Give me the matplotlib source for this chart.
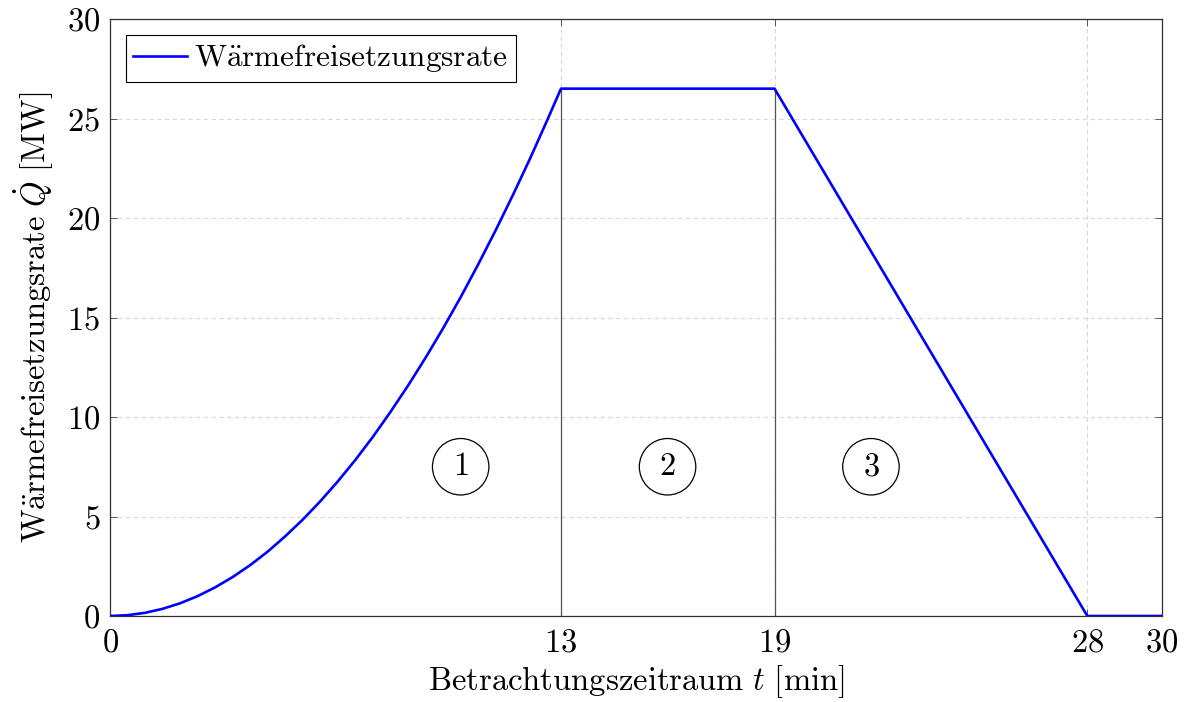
import matplotlib
matplotlib.use("Agg")
import matplotlib.pyplot as plt

plt.rcParams['mathtext.fontset'] = 'cm'
plt.rcParams['font.family'] = 'serif'
plt.rcParams['font.serif'] = ['cmr10', 'DejaVu Serif']
plt.rcParams['axes.formatter.use_mathtext'] = True

# Data
t_min = [0, 0.5, 1, 1.5, 2, 2.5, 3, 3.5, 4, 4.5, 5, 5.5, 6, 6.5, 7, 7.5, 8, 8.5,
         9, 9.5, 10, 10.5, 11, 11.5, 12, 12.5, 12.86, 18.95, 27.87, 30]
q_mw = [0, 0.04, 0.16, 0.36, 0.64, 1.00, 1.44, 1.96, 2.56, 3.24, 4.01, 4.85, 5.77,
        6.77, 7.85, 9.01, 10.26, 11.58, 12.98, 14.46, 16.02, 17.67, 19.39, 21.19,
        23.07, 25.04, 26.5, 26.5, 0, 0]
x_tick_pos = [0, 12.86, 18.95, 27.87, 30]
x_tick_labels = ['0', '13', '19', '28', '30']
y_ticks = [0, 5, 10, 15, 20, 25, 30]
phase_bounds = [12.86, 18.95]
phase_top = 26.5
phase_labels = ['1', '2', '3']
phase_x = [10.0, 15.9, 21.7]
phase_y = 7.5

FS = 23.5

fig = plt.figure(figsize=(11.88, 7.02), dpi=100)
ax = fig.add_axes([110 / 1188, 86 / 702, 1052 / 1188, 597 / 702])

ax.set_xlim(0, 30)
ax.set_ylim(0, 30)

ax.set_xticks(x_tick_pos)
ax.set_yticks(y_ticks)
ax.set_xticklabels([f'${v}$' for v in x_tick_labels])
ax.set_yticklabels([f'${v}$' for v in y_ticks])
ax.tick_params(direction='in', top=True, right=True, labelsize=FS, length=5,
               width=0.6, colors='#404040', labelcolor='black')
ax.tick_params(axis='x', pad=9)
ax.tick_params(axis='y', pad=7)

ax.grid(True, linestyle=(0, (4, 3)), color='#d9d9d9', linewidth=0.8)
ax.set_axisbelow(True)

for b in phase_bounds:
    ax.plot([b, b], [0, phase_top], color='#555555', linewidth=0.9, zorder=2)

ax.plot(t_min, q_mw, color='#0000ff', linewidth=1.9, zorder=3,
        label=r'$\mathrm{W\ddot{a}rmefreisetzungsrate}$')

for lab, px in zip(phase_labels, phase_x):
    ax.text(px, phase_y, f'${lab}$', fontsize=FS, ha='center', va='center',
            bbox=dict(boxstyle='circle,pad=0.42', fc='white', ec='black', lw=0.9))

for s in ax.spines.values():
    s.set_linewidth(0.9)
    s.set_color('#333333')

ax.set_xlabel(r'$\mathrm{Betrachtungszeitraum}\ t\ \mathrm{[min]}$', fontsize=FS, labelpad=4)
ax.set_ylabel(r'$\mathrm{W\ddot{a}rmefreisetzungsrate}\ \dot{Q}\ \mathrm{[MW]}$', fontsize=FS, labelpad=8)

leg = ax.legend(loc='upper left', fontsize=22.5, frameon=True, fancybox=False,
                edgecolor='black', framealpha=1, handlelength=1.7, handletextpad=0.25,
                borderpad=0.25, borderaxespad=0.5)
leg.get_frame().set_linewidth(0.8)

fig.savefig('out.png', dpi=100)
